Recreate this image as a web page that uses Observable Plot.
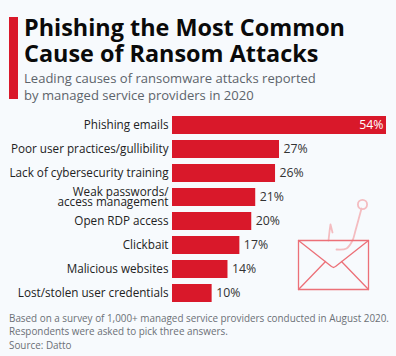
<!DOCTYPE html>
<html><head><meta charset="utf-8">
<script src="https://cdn.jsdelivr.net/npm/d3@7"></script>
<script src="https://cdn.jsdelivr.net/npm/@observablehq/plot@0.6"></script>
<style>
html,body{margin:0;padding:0;background:#f7fafd;}
#page{position:relative;width:396px;height:356px;overflow:hidden;background:#f7fafd;font-family:"Open Sans",sans-serif;}
#accent{position:absolute;left:9px;top:17px;width:9px;height:82px;background:#d9182a;}
h1{position:absolute;left:24px;top:14px;margin:0;font-size:23.4px;line-height:26px;font-weight:700;color:#0a0a0a;white-space:nowrap;}
#sub{position:absolute;left:24px;top:70px;font-size:13.05px;line-height:16.5px;color:#5d646b;white-space:nowrap;}
#note{position:absolute;left:9px;top:312px;font-size:9.9px;line-height:12.5px;color:#6b7076;white-space:nowrap;}
#source{position:absolute;left:9px;top:339px;font-size:9.9px;line-height:12px;color:#6b7076;white-space:nowrap;}
#chart,#icon{position:absolute;left:0;}
#chart{top:104px}
#icon{left:295px;top:187px}
svg{display:block;background:transparent!important;}
</style></head><body>
<div id="page">
<div id="accent"></div>
<h1>Phishing the Most Common<br>Cause of Ransom Attacks</h1>
<div id="sub">Leading causes of ransomware attacks reported<br>by managed service providers in 2020</div>
<div id="chart"></div>
<div id="icon"></div>
<div id="note">Based on a survey of 1,000+ managed service providers conducted in August 2020.<br>Respondents were asked to pick three answers.</div>
<div id="source">Source: Datto</div>
</div>
<script>
const categories = ["Phishing emails","Poor user practices/gullibility","Lack of cybersecurity training","Weak passwords/\naccess management","Open RDP access","Clickbait","Malicious websites","Lost/stolen user credentials"];
const values = [54,27,26,21,20,17,14,10];
const rows = categories.map((c,i)=>({c,v:values[i]}));

// Decorative envelope-and-hook icon, in the icon's own units
const envelopeOutline = [[0,0],[70,0],[70,49],[0,49],[0,0]];
const envelopeFlap = [[0,0],[33,26],[35,27],[37,26],[70,0]];
const envelopeFoldLeft = [[0,49],[27,21]];
const envelopeFoldRight = [[70,49],[43,21]];
const hookLine = [[63,-32],[57,-10],[54,0],[48,8],[38,9]];
const hookBarb = [[30,0],[31,-9],[32,-16],[34,-8]];
const hookEye = [[64,-36]];

const chart = Plot.plot({
  width:396,height:210,marginLeft:172,marginRight:10,marginTop:3.6,marginBottom:4,
  style:{background:"transparent",fontFamily:"'Open Sans',sans-serif"},
  x:{domain:[0,54],axis:null},
  y:{domain:categories,padding:0.26,label:null},
  marks:[
    Plot.barX(rows,{x:"v",y:"c",fill:"#d9182a"}),
    Plot.axisY({tickSize:0,tickPadding:4,fontSize:11.7,lineHeight:0.86,label:null,fill:"#222"}),
    Plot.text(rows.filter(d=>d.v<54),{x:"v",y:"c",text:d=>d.v+"%",textAnchor:"start",dx:4,fontSize:12.3,fill:"#333"}),
    Plot.text(rows.filter(d=>d.v>=54),{x:"v",y:"c",text:d=>d.v+"%",textAnchor:"end",dx:-3,fontSize:12.3,fill:"#fff"})
  ]
});
document.getElementById("chart").append(chart);

const seg = (pts,opt)=>Plot.line(pts,{x:d=>d[0],y:d=>d[1],...opt});
const red = {stroke:"#ec7078",strokeWidth:1.3};
const pink = {stroke:"#f4bcc0",strokeWidth:1.8};
const icon = Plot.plot({
  width:76,height:104,marginLeft:3,marginRight:3,marginTop:4,marginBottom:2,
  style:{background:"transparent"},
  x:{domain:[0,70],axis:null},
  y:{domain:[-49,49],reverse:true,axis:null},
  marks:[
    seg(hookLine,{...pink,curve:"catmull-rom"}),
    seg(hookBarb,{...pink}),
    Plot.dot(hookEye,{x:d=>d[0],y:d=>d[1],r:4.6,stroke:"#f4bcc0",strokeWidth:1.8,fill:"none"}),
    seg(envelopeOutline,red),
    seg(envelopeFlap,red),
    seg(envelopeFoldLeft,red),
    seg(envelopeFoldRight,red)
  ]
});
document.getElementById("icon").append(icon);
</script>
</body></html>
